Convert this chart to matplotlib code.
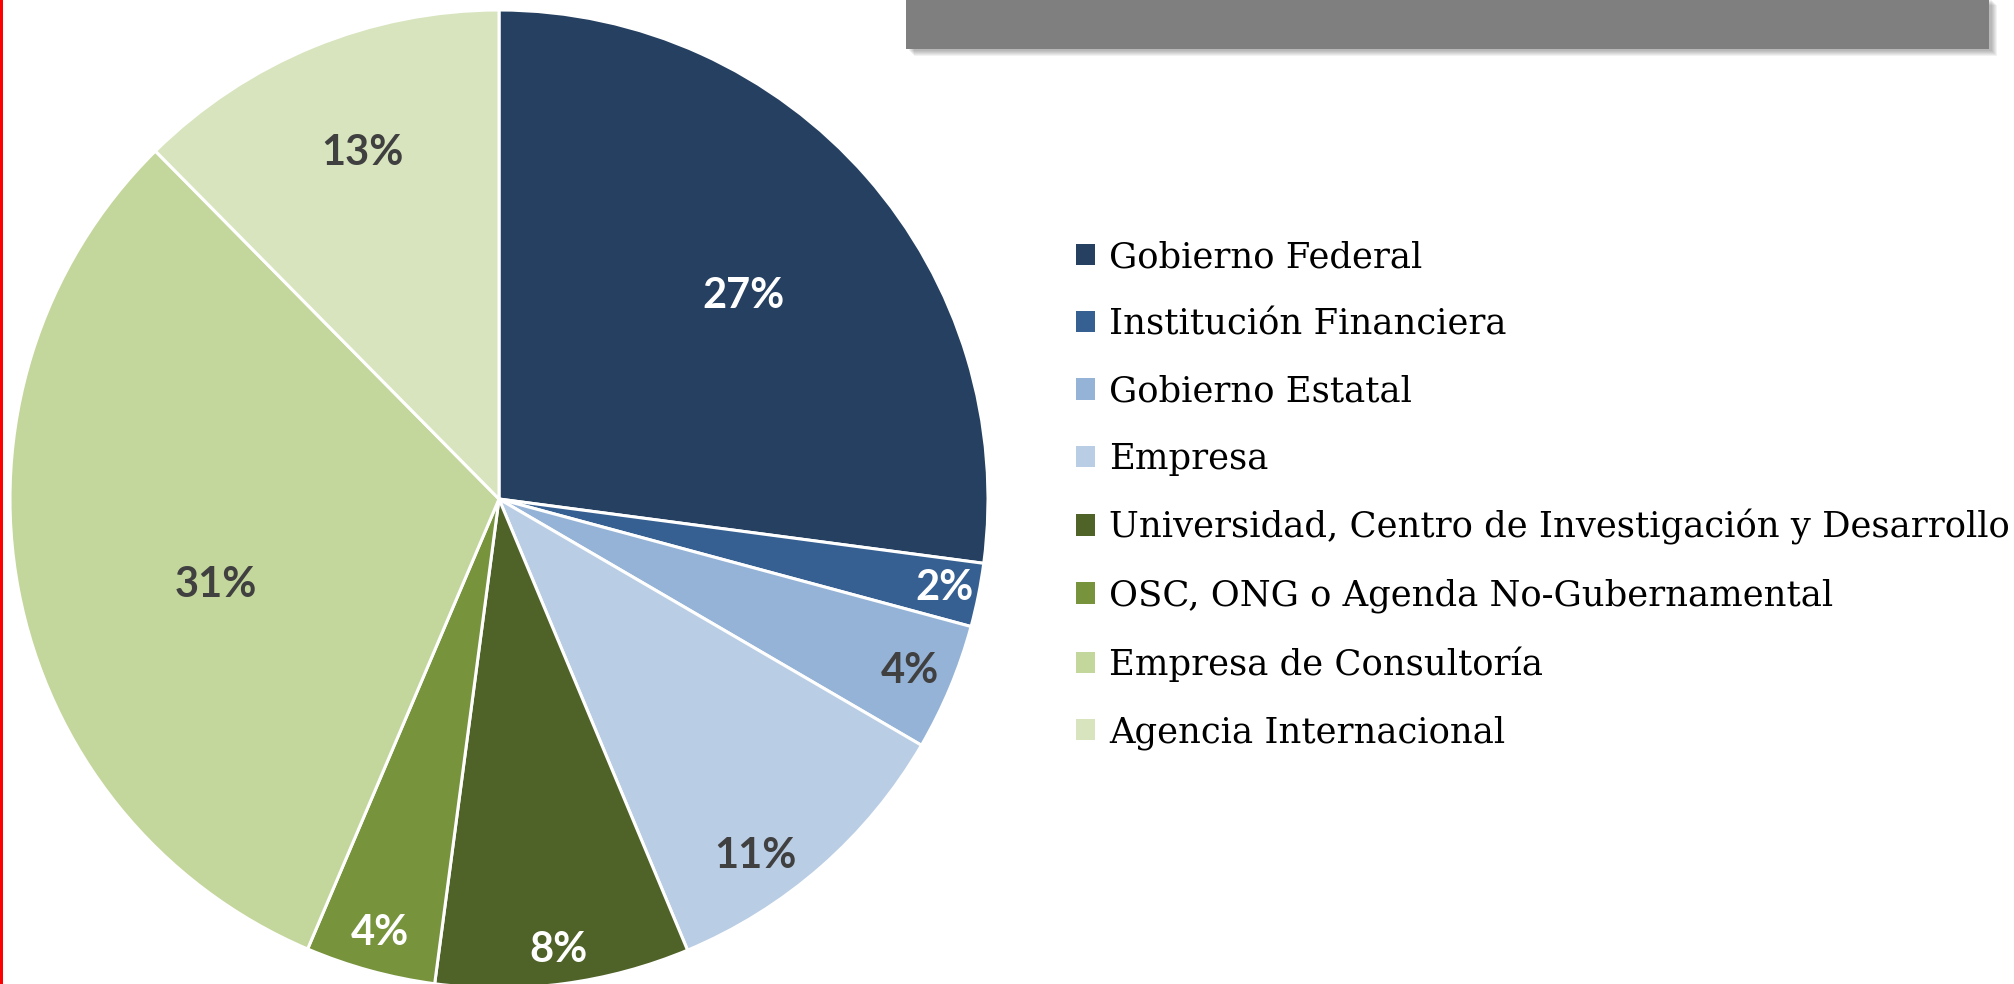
import numpy as np
import matplotlib
matplotlib.use("Agg")
from matplotlib import pyplot as plt
from matplotlib.patches import Rectangle, Patch

# data
categories = ['Gobierno Federal', 'Institución Financiera', 'Gobierno Estatal', 'Empresa',
              'Universidad, Centro de Investigación y Desarrollo',
              'OSC, ONG o Agenda No-Gubernamental', 'Empresa de Consultoría',
              'Agencia Internacional']
shares = [27.1, 2.1, 4.2, 10.3, 8.4, 4.3, 31.2, 12.4]   # wedge sizes
labels = ['27%', '2%', '4%', '11%', '8%', '4%', '31%', '13%']
colors = ['#254061', '#376092', '#95B3D7', '#B9CDE5', '#4F6228', '#77933C', '#C3D69B', '#D7E4BD']
label_colors = ['white', 'white', '#404040', '#404040', 'white', 'white', '#404040', '#404040']
# label placement (best-fit style): radius fraction and angle nudge in degrees
label_r = [0.65, 0.93, 0.91, 0.90, 0.93, 0.92, 0.605, 0.76]
label_dang = [-1.5, 0, 0, -5.5, 0, 0, 6, -0.8]

W, H = 2015, 984
fig = plt.figure(figsize=(W / 100, H / 100), dpi=100)
fig.patch.set_facecolor('white')

# pie axes: centre (499, 499) px from top-left, radius 489 px
cx, cy, r = 499, 499, 489
ax = fig.add_axes([(cx - r) / W, (H - cy - r) / H, 2 * r / W, 2 * r / H])
wedges, _ = ax.pie(shares, colors=colors, startangle=90, counterclock=False,
                   wedgeprops=dict(edgecolor='white', linewidth=2.2))
ax.set_xlim(-1, 1)
ax.set_ylim(-1, 1)
ax.set_aspect('equal')
ax.axis('off')

for w, lab, c, rr, da in zip(wedges, labels, label_colors, label_r, label_dang):
    mid = np.deg2rad((w.theta1 + w.theta2) / 2 + da)
    ax.text(rr * np.cos(mid), rr * np.sin(mid), lab, ha='center', va='center',
            fontsize=30, fontweight='bold', color=c, family=['Lato', 'DejaVu Sans'])

# legend
handles = [Patch(facecolor=c, edgecolor='none') for c in colors]
fig.legend(handles, categories, loc='upper left', bbox_to_anchor=(1076 / W, 1 - 240 / H),
           frameon=False, prop=dict(family='DejaVu Serif', size=25.5),
           handlelength=0.55, handleheight=0.55, handletextpad=0.38,
           labelspacing=0.94, borderpad=0, borderaxespad=0)

# grey banner with a soft shadow at the top right
x0, x1, y1 = 906, 1989, 49
for k in range(6):
    fig.patches.append(Rectangle(((x0 + 3 + k) / W, 1 - (y1 + 2 + k) / H),
                                 (x1 - x0) / W, (y1 + 2) / H, transform=fig.transFigure,
                                 facecolor='black', edgecolor='none', alpha=0.05, zorder=1))
fig.patches.append(Rectangle((x0 / W, 1 - y1 / H), (x1 - x0) / W, y1 / H + 0.01,
                             transform=fig.transFigure, facecolor='#7F7F7F',
                             edgecolor='none', zorder=2))

# red edge on the left
fig.patches.append(Rectangle((0, 0), 3 / W, 1, transform=fig.transFigure,
                             facecolor='#FF0000', edgecolor='none', zorder=3))

fig.savefig('out.png', dpi=100)
